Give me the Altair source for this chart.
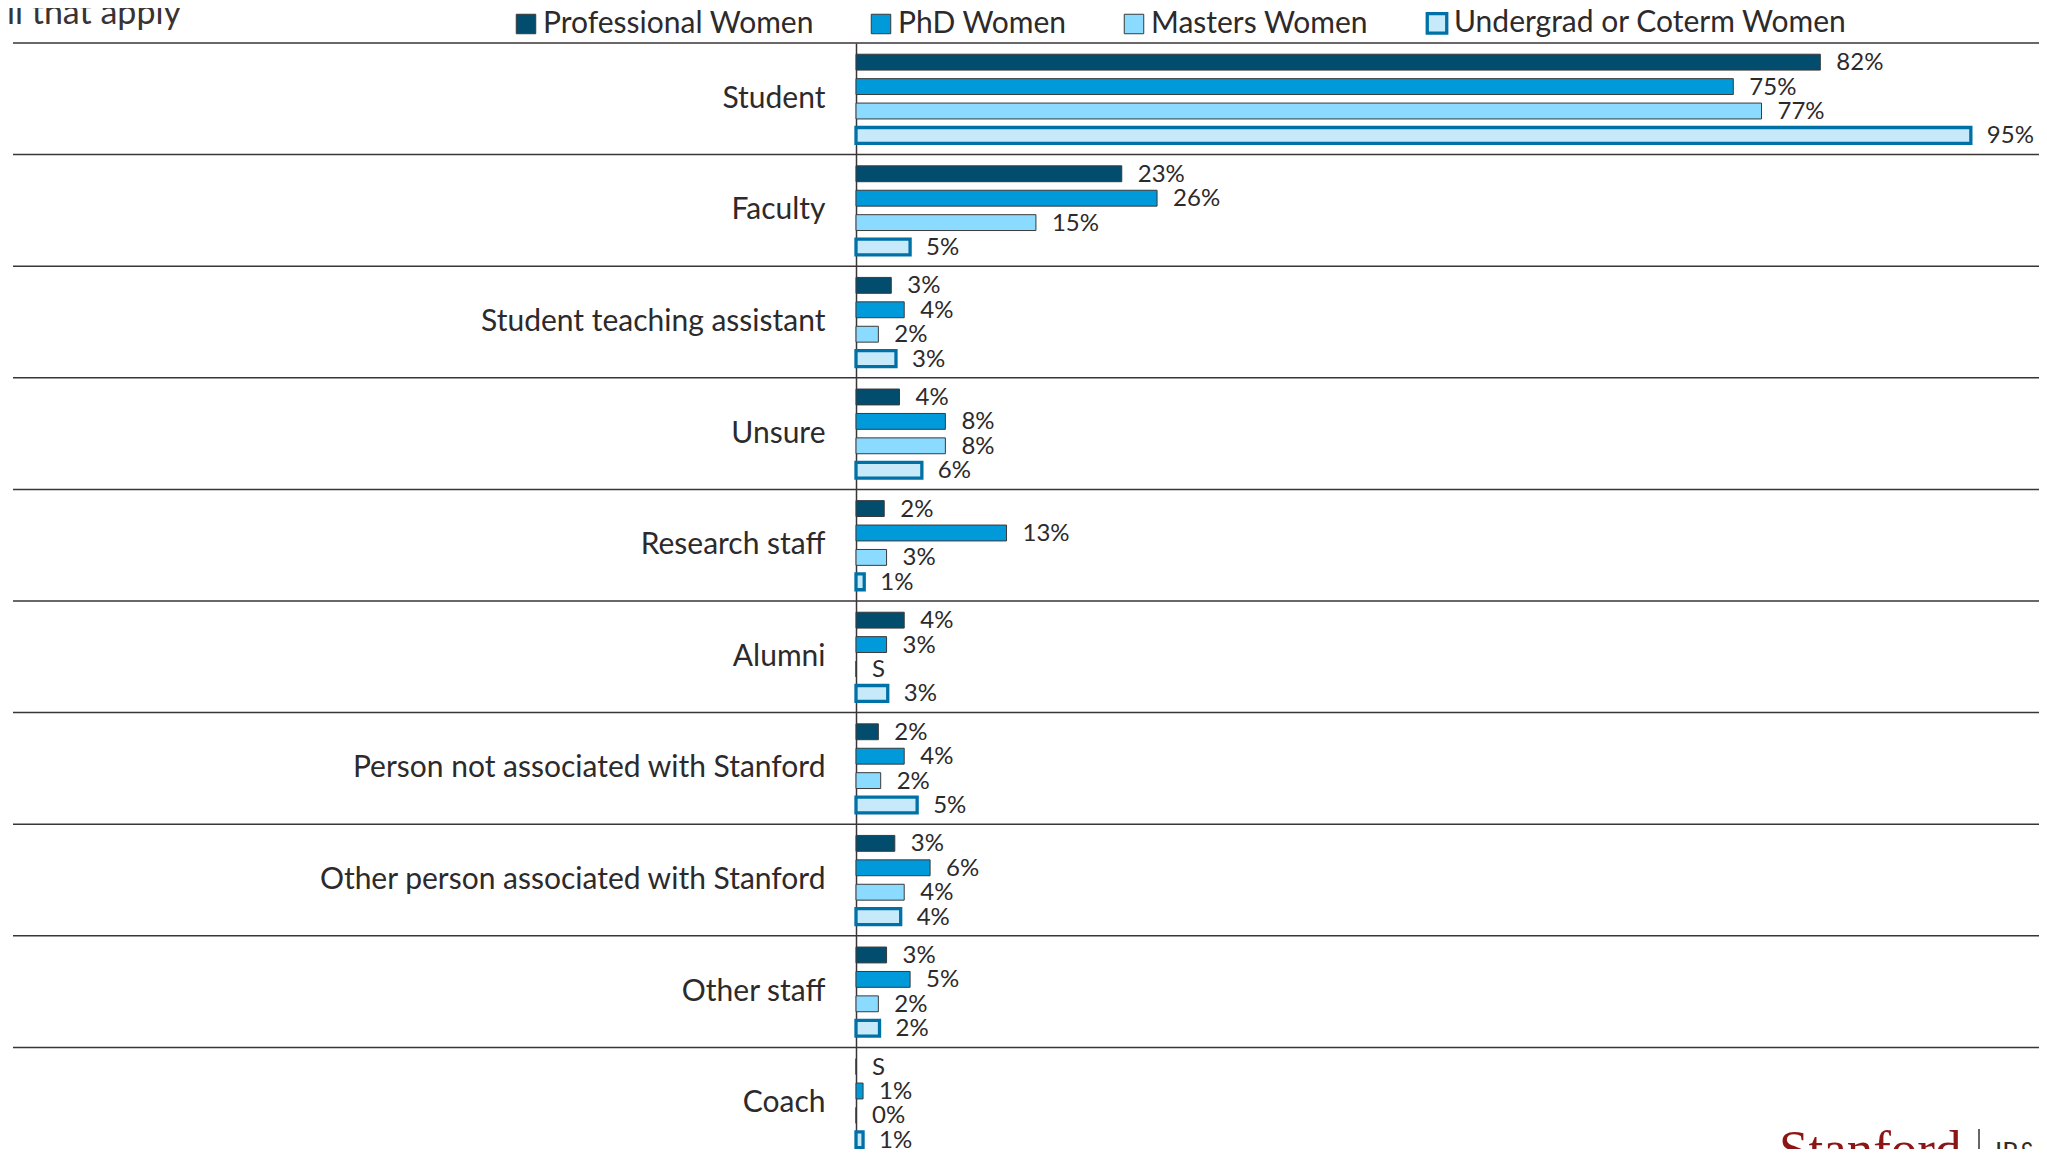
import altair as alt
import pandas as pd

categories = [
    "Student",
    "Faculty",
    "Student teaching assistant",
    "Unsure",
    "Research staff",
    "Alumni",
    "Person not associated with Stanford",
    "Other person associated with Stanford",
    "Other staff",
    "Coach",
]
series = ["Professional Women", "PhD Women", "Masters Women", "Undergrad or Coterm Women"]

# percentages (None = suppressed, shown as "S")
professional = [82.0, 22.6, 3.0, 3.7, 2.4, 4.1, 1.9, 3.3, 2.6, None]
phd = [74.6, 25.6, 4.1, 7.6, 12.8, 2.6, 4.1, 6.3, 4.6, 0.6]
masters = [77.0, 15.3, 1.9, 7.6, 2.6, None, 2.1, 4.1, 1.9, 0.0]
undergrad = [94.8, 4.6, 3.4, 5.6, 0.7, 2.7, 5.2, 3.8, 2.0, 0.6]

fills = ["#024c6e", "#0099da", "#8bdaff", "#c7eafb"]
OUTLINED = "Undergrad or Coterm Women"
OUTLINE_COLOR = "#0071a6"
EDGE_COLOR = "#3a3a3a"

title_text = "Select all that apply"

rows = []
for s, vals in zip(series, [professional, phd, masters, undergrad]):
    for c, v in zip(categories, vals):
        rows.append({
            "category": c,
            "series": s,
            "bar": 0.0 if v is None else v,
            "label": "S" if v is None else f"{v:.0f}%",
        })
df = pd.DataFrame(rows)

FONT = "Lato"
TXT = "#2d2a2b"

y_enc = alt.Y(
    "category:N",
    sort=categories,
    scale=alt.Scale(range=[0, 1116], paddingInner=0, paddingOuter=0),
    axis=alt.Axis(
        title=None,
        ticks=False,
        grid=False,
        labelFont=FONT,
        labelFontSize=30,
        labelColor=TXT,
        labelPadding=31,
        labelLimit=0,
        domain=True,
        domainColor="#3a3536",
        domainWidth=1.5,
    ),
)
yoff_enc = alt.YOffset(
    "series:N",
    sort=series,
    scale=alt.Scale(paddingInner=0.35, paddingOuter=0.46),
)
x_enc = alt.X("bar:Q", scale=alt.Scale(domain=[0, 100], range=[0, 1176]), axis=None)

sym_test = f"datum.value === '{OUTLINED}'"
leg = alt.Legend(
    title=None,
    orient="none",
    legendX=-345,
    legendY=-35,
    direction="horizontal",
    symbolType="square",
    symbolSize=380,
    labelFont=FONT,
    labelFontSize=30,
    labelColor=TXT,
    labelLimit=0,
    labelOffset=2,
    columnPadding=52,
    symbolStrokeColor=alt.ExprRef(expr=f"{sym_test} ? '{OUTLINE_COLOR}' : '{EDGE_COLOR}'"),
    symbolStrokeWidth=alt.ExprRef(expr=f"{sym_test} ? 3.3 : 1"),
)

is_outlined = alt.datum.series == OUTLINED

base = alt.Chart(df)

bars = base.mark_bar().encode(
    y=y_enc,
    yOffset=yoff_enc,
    x=x_enc,
    fill=alt.Fill("series:N", sort=series, scale=alt.Scale(domain=series, range=fills), legend=leg),
    stroke=alt.condition(is_outlined, alt.value(OUTLINE_COLOR), alt.value(EDGE_COLOR)),
    strokeWidth=alt.condition(is_outlined, alt.value(3.3), alt.value(1)),
)

labels = base.mark_text(
    align="left", baseline="middle", dx=16, dy=1, font=FONT, fontSize=24, color=TXT
).encode(
    y=alt.Y("category:N", sort=categories),
    yOffset=alt.YOffset("series:N", sort=series),
    x=alt.X("bar:Q"),
    text="label:N",
)

sep_df = pd.DataFrame({"category": categories})
seps = alt.Chart(sep_df).mark_rule(color="#3a3536", strokeWidth=1.5).encode(
    y=alt.Y("category:N", sort=categories, bandPosition=0),
    x=alt.value(-843),
    x2=alt.value(1183),
)

title = alt.Chart(pd.DataFrame({"t": [title_text]})).mark_text(
    align="right", baseline="alphabetic", font=FONT, fontSize=34, color="#3a3334"
).encode(text="t:N", x=alt.value(-675), y=alt.value(-19))

logo = alt.Chart(pd.DataFrame({"t": ["Stanford"]})).mark_text(
    align="left", baseline="alphabetic", font="Liberation Serif", fontSize=53, color="#8c1515"
).encode(text="t:N", x=alt.value(923), y=alt.value(1124))

logo_bar = alt.Chart(pd.DataFrame({"t": [1]})).mark_rule(color="#333333", strokeWidth=1.5).encode(
    x=alt.value(1123), y=alt.value(1086), y2=alt.value(1110)
)

logo_ir = alt.Chart(pd.DataFrame({"t": ["IR&DS"]})).mark_text(
    align="left", baseline="alphabetic", font=FONT, fontSize=26, color="#2e2d29"
).encode(text="t:N", x=alt.value(1139), y=alt.value(1119))

chart = alt.layer(seps, bars, labels, title, logo, logo_bar, logo_ir).properties(
    width=1183,
    height=1106,
    autosize=alt.AutoSizeParams(type="none"),
    padding={"left": 848, "top": 35, "right": 0, "bottom": 0},
    background="white",
).configure_view(stroke=None)

chart.save("out.html", embed_options={"renderer": "svg", "actions": False})
